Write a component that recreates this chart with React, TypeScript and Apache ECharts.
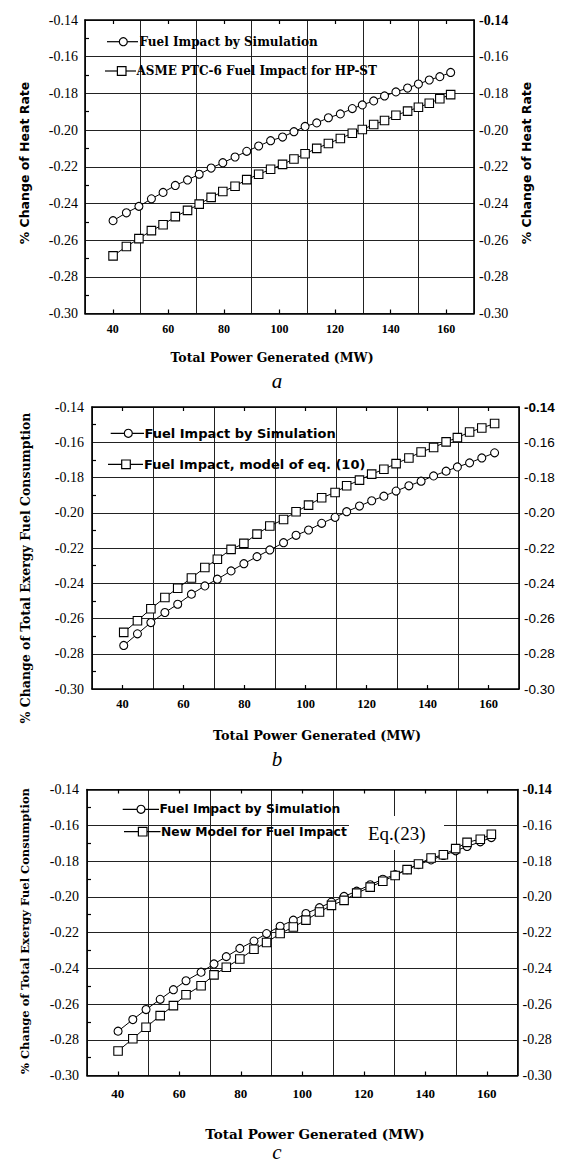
import React, { useEffect, useRef } from 'react';
import * as echarts from 'echarts';

// ---------- data ----------
const xTickLabels = [40, 60, 80, 100, 120, 140, 160];

// panel a
const powerA = [40.1, 44.9, 49.4, 53.9, 58.1, 62.5, 66.9, 71.1, 75.4, 79.6, 84.0, 88.2, 92.5, 96.8, 101.1, 105.2, 109.2, 113.4, 117.6, 121.9, 126.2, 129.8, 133.9, 137.8, 141.9, 146.1, 150.0, 153.9, 157.7, 161.6];
const simA = [-0.2494, -0.2451, -0.2416, -0.2375, -0.2340, -0.2302, -0.2272, -0.2241, -0.2207, -0.2178, -0.2147, -0.2116, -0.2087, -0.2058, -0.2038, -0.2009, -0.1980, -0.1961, -0.1933, -0.1912, -0.1883, -0.1863, -0.1841, -0.1814, -0.1792, -0.1771, -0.1749, -0.1727, -0.1709, -0.1686];
const asmeA = [-0.2686, -0.2635, -0.2592, -0.2548, -0.2516, -0.2472, -0.2438, -0.2404, -0.2367, -0.2335, -0.2306, -0.2270, -0.2241, -0.2214, -0.2187, -0.2158, -0.2129, -0.2100, -0.2073, -0.2046, -0.2017, -0.1997, -0.1970, -0.1948, -0.1919, -0.1897, -0.1876, -0.1854, -0.1829, -0.1807];

// panel b
const powerB = [40.4, 44.9, 49.3, 53.9, 58.1, 62.6, 67.0, 71.1, 75.6, 79.8, 84.1, 88.3, 92.8, 96.9, 101.0, 105.3, 109.7, 113.5, 117.7, 121.7, 125.7, 129.7, 133.9, 137.9, 142.0, 146.1, 149.8, 153.8, 157.8, 162.0];
const simB = [-0.2753, -0.2687, -0.2623, -0.2566, -0.2519, -0.2462, -0.2415, -0.2377, -0.2330, -0.2289, -0.2249, -0.2211, -0.2170, -0.2128, -0.2098, -0.2060, -0.2026, -0.1994, -0.1962, -0.1932, -0.1906, -0.1877, -0.1847, -0.1821, -0.1791, -0.1764, -0.1740, -0.1717, -0.1689, -0.1660];
const modelB = [-0.2679, -0.2613, -0.2545, -0.2481, -0.2428, -0.2370, -0.2311, -0.2264, -0.2208, -0.2174, -0.2121, -0.2075, -0.2038, -0.1994, -0.1957, -0.1915, -0.1885, -0.1847, -0.1815, -0.1781, -0.1753, -0.1721, -0.1689, -0.1655, -0.1630, -0.1598, -0.1574, -0.1542, -0.1519, -0.1494];

// panel c
const powerC = [40.1, 44.9, 49.2, 53.8, 58.1, 62.2, 67.1, 71.3, 75.3, 79.7, 84.3, 88.4, 92.8, 97.1, 101.2, 105.6, 109.5, 113.6, 117.7, 122.1, 126.2, 130.2, 134.1, 137.8, 141.9, 145.9, 149.9, 153.6, 157.9, 161.5];
const simC = [-0.2752, -0.2687, -0.2631, -0.2574, -0.2520, -0.2470, -0.2422, -0.2376, -0.2335, -0.2289, -0.2248, -0.2206, -0.2165, -0.2131, -0.2094, -0.2061, -0.2030, -0.1998, -0.1969, -0.1933, -0.1902, -0.1876, -0.1848, -0.1820, -0.1794, -0.1769, -0.1743, -0.1719, -0.1693, -0.1669];
const newC = [-0.2863, -0.2794, -0.2730, -0.2665, -0.2609, -0.2548, -0.2498, -0.2437, -0.2394, -0.2348, -0.2294, -0.2256, -0.2206, -0.2169, -0.2131, -0.2085, -0.2048, -0.2020, -0.1980, -0.1946, -0.1913, -0.1881, -0.1848, -0.1817, -0.1783, -0.1765, -0.1731, -0.1696, -0.1678, -0.1650];

const seriesSimName = 'Fuel Impact by Simulation';
const seriesNamesA = [seriesSimName, 'ASME PTC-6 Fuel Impact for HP-ST'];
const seriesNamesB = [seriesSimName, 'Fuel Impact, model of eq. (10)'];
const seriesNamesC = [seriesSimName, 'New Model for Fuel Impact'];

// ---------- layout ----------
const SERIF = 'Liberation Serif';
const SERIF_WIDE = 'DejaVu Serif';
const SANS = 'Liberation Sans';
const SANS_WIDE = 'DejaVu Sans';

const panels = [
  {
    grid: { left: 85, top: 20, width: 389, height: 293.5 },
    xs: powerA, ys: [simA, asmeA], names: seriesNamesA,
    xLabel: { margin: 9, size: 12 },
    leftLabel: { family: SERIF, size: 14, margin: 7 },
    rightLabel: { family: SERIF, size: 14, margin: 5 },
    xTitle: { x: 272, y: 357, size: 12.5 },
    letter: { text: 'a', x: 277, y: 381 },
    legend: {
      family: SERIF_WIDE, size: 12,
      rows: [
        { y: 41.7, x1: 107, x2: 138, mx: 123.3, tx: 139.5 },
        { y: 71, x1: 105, x2: 136, mx: 121.7, tx: 136.5 },
      ],
    },
  },
  {
    grid: { left: 92, top: 407, width: 427, height: 282 },
    xs: powerB, ys: [simB, modelB], names: seriesNamesB,
    xLabel: { margin: 8, size: 12.5 },
    leftLabel: { family: SERIF, size: 14, margin: 8 },
    rightLabel: { family: SANS, size: 13.5, margin: 5 },
    xTitle: { x: 317, y: 735, size: 12.8 },
    letter: { text: 'b', x: 277, y: 759 },
    legend: {
      family: SANS_WIDE, size: 13,
      rows: [
        { y: 433.3, x1: 110.7, x2: 144, mx: 128.3, tx: 144.5 },
        { y: 464.3, x1: 108, x2: 143, mx: 126, tx: 144 },
      ],
    },
  },
  {
    grid: { left: 87, top: 789.5, width: 430.5, height: 286 },
    xs: powerC, ys: [simC, newC], names: seriesNamesC,
    xLabel: { margin: 11, size: 13 },
    leftLabel: { family: SERIF, size: 14, margin: 8 },
    rightLabel: { family: SERIF, size: 14, margin: 5 },
    xTitle: { x: 315, y: 1134, size: 13.5 },
    letter: { text: 'c', x: 277, y: 1152 },
    legend: {
      family: SANS_WIDE, size: 12.3,
      rows: [
        { y: 809.3, x1: 122.7, x2: 159, mx: 141, tx: 159.5 },
        { y: 831.7, x1: 124, x2: 160.5, mx: 142.7, tx: 161 },
      ],
    },
  },
];

const yTitles = [
  { text: '% Change of Heat Rate', x: 24, y: 163, family: SANS_WIDE, size: 12.5 },
  { text: '% Change of Heat Rate', x: 526, y: 163, family: SANS_WIDE, size: 12.5 },
  { text: '% Change of Total Exergy Fuel Consumption', x: 25, y: 568, family: SERIF_WIDE, size: 12.5 },
  { text: '% Change of Total Exergy Fuel Consumption', x: 25, y: 931, family: SERIF_WIDE, size: 11.5 },
];

const X_MIN = 30;
const X_MAX = 170;
const Y_MIN = -0.30;
const Y_MAX = -0.14;

const fmtY = (v: number) => v.toFixed(2);
const isTop = (v: number) => Math.abs(v - Y_MAX) < 1e-9;

function buildOption() {
  const grid: any[] = [];
  const xAxis: any[] = [];
  const yAxis: any[] = [];
  const series: any[] = [];
  const graphic: any[] = [];

  const border = { color: '#000', width: 1.6 };
  const gridLine = { color: '#222', width: 1 };
  const minor = { show: true, splitNumber: 2, length: 4, lineStyle: { color: '#000', width: 1.2 } };

  panels.forEach((p, i) => {
    grid.push({ ...p.grid, containLabel: false });

    xAxis.push({
      gridIndex: i, type: 'value', min: X_MIN, max: X_MAX, interval: 10, position: 'bottom',
      axisLine: { show: true, onZero: false, lineStyle: border },
      axisTick: { show: false },
      splitLine: { show: false },
      axisLabel: {
        show: true, margin: p.xLabel.margin, color: '#000', fontFamily: SERIF, fontWeight: 'bold',
        fontSize: p.xLabel.size, hideOverlap: false,
        formatter: (v: number) => (xTickLabels.includes(Math.round(v)) ? String(Math.round(v)) : ''),
      },
    });
    xAxis.push({
      gridIndex: i, type: 'value', min: X_MIN, max: X_MAX, interval: 20, position: 'bottom',
      axisLine: { show: false, onZero: false },
      axisTick: { show: false, inside: true },
      axisLabel: { show: false },
      splitLine: { show: true, lineStyle: gridLine },
      minorTick: minor,
    });
    xAxis.push({
      gridIndex: i, type: 'value', min: X_MIN, max: X_MAX, interval: 20, position: 'top',
      axisLine: { show: true, onZero: false, lineStyle: border },
      axisTick: { show: false, inside: true },
      axisLabel: { show: false },
      splitLine: { show: false },
      minorTick: minor,
    });

    yAxis.push({
      gridIndex: i, type: 'value', min: Y_MIN, max: Y_MAX, interval: 0.02, position: 'left',
      axisLine: { show: true, onZero: false, lineStyle: border },
      axisTick: { show: false, inside: true },
      minorTick: minor,
      splitLine: { show: true, lineStyle: gridLine },
      axisLabel: {
        margin: p.leftLabel.margin, color: '#000', fontFamily: p.leftLabel.family, fontSize: p.leftLabel.size,
        formatter: fmtY,
      },
    });
    yAxis.push({
      gridIndex: i, type: 'value', min: Y_MIN, max: Y_MAX, interval: 0.02, position: 'right',
      axisLine: { show: true, onZero: false, lineStyle: border },
      axisTick: { show: false },
      splitLine: { show: false },
      axisLabel: {
        margin: p.rightLabel.margin, color: '#000', fontFamily: p.rightLabel.family, fontSize: p.rightLabel.size,
        formatter: (v: number) => (isTop(v) ? '{b|' + fmtY(v) + '}' : fmtY(v)),
        rich: { b: { fontWeight: 'bold', fontFamily: p.rightLabel.family, fontSize: p.rightLabel.size, color: '#000' } },
      },
    });

    p.ys.forEach((ys, k) => {
      series.push({
        type: 'line', name: p.names[k], xAxisIndex: 3 * i, yAxisIndex: 2 * i,
        data: p.xs.map((x, j) => [x, ys[j]]),
        symbol: k === 0 ? 'circle' : 'rect', symbolSize: k === 0 ? 8 : 8.5,
        showSymbol: true, silent: true, z: 5,
        itemStyle: { color: '#fff', borderColor: '#000', borderWidth: 1.1 },
        lineStyle: { color: '#000', width: 1 },
      });
    });

    p.legend.rows.forEach((r, k) => {
      graphic.push({ type: 'line', z: 10, shape: { x1: r.x1, y1: r.y, x2: r.x2, y2: r.y }, style: { stroke: '#000', lineWidth: 1.2 } });
      if (k === 0) {
        graphic.push({ type: 'circle', z: 11, shape: { cx: r.mx, cy: r.y, r: 4 }, style: { fill: '#fff', stroke: '#000', lineWidth: 1.2 } });
      } else {
        graphic.push({ type: 'rect', z: 11, shape: { x: r.mx - 4.3, y: r.y - 4.3, width: 8.6, height: 8.6 }, style: { fill: '#fff', stroke: '#000', lineWidth: 1.2 } });
      }
      graphic.push({
        type: 'text', z: 12, x: r.tx, y: r.y,
        style: { text: p.names[k], fill: '#000', fontFamily: p.legend.family, fontWeight: 'bold', fontSize: p.legend.size, align: 'left', verticalAlign: 'middle' },
      });
    });

    graphic.push({
      type: 'text', z: 12, x: p.xTitle.x, y: p.xTitle.y,
      style: { text: 'Total Power Generated (MW)', fill: '#000', fontFamily: SERIF_WIDE, fontWeight: 'bold', fontSize: p.xTitle.size, align: 'center', verticalAlign: 'middle' },
    });
    graphic.push({
      type: 'text', z: 12, x: p.letter.x, y: p.letter.y,
      style: { text: p.letter.text, fill: '#000', fontFamily: SERIF, fontStyle: 'italic', fontSize: 21, align: 'center', verticalAlign: 'middle' },
    });
  });

  yTitles.forEach((t) => {
    graphic.push({
      type: 'text', z: 12, x: t.x, y: t.y, rotation: Math.PI / 2,
      style: { text: t.text, fill: '#000', fontFamily: t.family, fontWeight: 'bold', fontSize: t.size, align: 'center', verticalAlign: 'middle' },
    });
  });

  graphic.push({ type: 'rect', z: 3, shape: { x: 349, y: 816, width: 95, height: 34 }, style: { fill: '#fff' } });
  graphic.push({
    type: 'text', z: 12, x: 368, y: 833,
    style: { text: 'Eq.(23)', fill: '#000', fontFamily: SERIF, fontSize: 19, align: 'left', verticalAlign: 'middle' },
  });

  return { animation: false, backgroundColor: '#fff', grid, xAxis, yAxis, series, graphic };
}

export default function App() {
  const ref = useRef<HTMLDivElement>(null);
  useEffect(() => {
    if (!ref.current) return;
    const chart = echarts.init(ref.current, undefined, { renderer: 'svg' });
    chart.setOption(buildOption() as any);
    return () => chart.dispose();
  }, []);
  return <div ref={ref} style={{ position: 'absolute', left: 0, top: 0, width: 561, height: 1167, background: '#fff' }} />;
}
